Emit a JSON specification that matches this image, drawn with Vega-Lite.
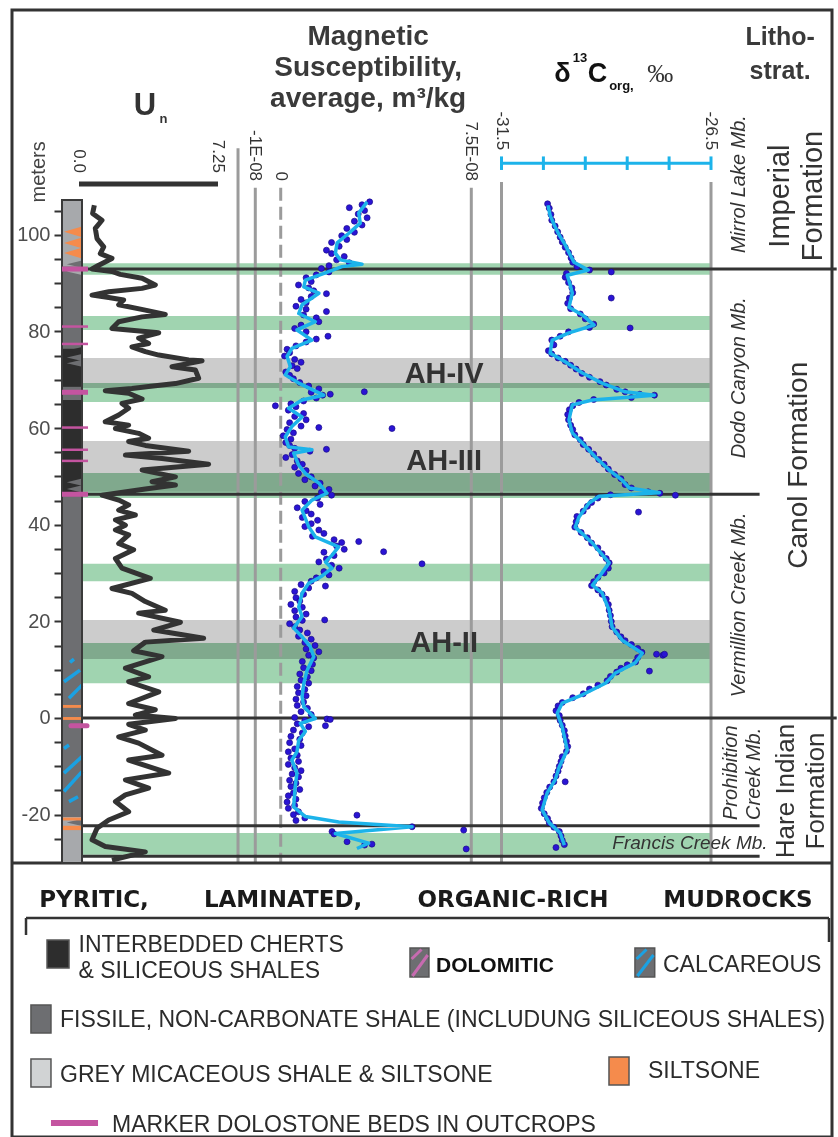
{
"$schema": "https://vega.github.io/schema/vega-lite/v6.json",
"width": 838, "height": 1137,
"autosize": {"type": "fit", "contains": "padding"},
"padding": {"left": 10, "top": 10, "right": 4, "bottom": 0},
"background": "white",
"config": {"view": {"stroke": "#333333", "strokeWidth": 3}, "text": {"font": "Liberation Sans"}},
"resolve": {"scale": {"x": "independent", "y": "independent", "color": "independent", "strokeWidth": "independent", "strokeDash": "independent"}},
"layer": [
{
 "data": {"values": [
  {"top": 94.1, "bottom": 91.7, "kind": "green"},
  {"top": 83.2, "bottom": 80.3, "kind": "green"},
  {"top": 69.3, "bottom": 65.4, "kind": "green"},
  {"top": 50.7, "bottom": 45.5, "kind": "green"},
  {"top": 31.9, "bottom": 28.3, "kind": "green"},
  {"top": 15.5, "bottom": 7.2, "kind": "green"},
  {"top": -23.8, "bottom": -28.3, "kind": "green"},
  {"top": 74.5, "bottom": 68.3, "kind": "grey"},
  {"top": 57.3, "bottom": 46.8, "kind": "grey"},
  {"top": 20.3, "bottom": 12.2, "kind": "grey"}
 ]},
 "mark": {"type": "rect", "blend": "multiply"},
 "encoding": {
  "x": {"datum": -41.5, "type": "quantitative", "scale": {"domain": [-31.5, -26.5], "range": [489.5, 699], "nice": false, "zero": false}, "axis": null},
  "x2": {"datum": -26.5},
  "y": {"field": "top", "type": "quantitative", "scale": {"domain": [-86.7, 146.5], "nice": false, "zero": false}, "axis": null},
  "y2": {"field": "bottom"},
  "color": {"field": "kind", "type": "nominal", "scale": {"domain": ["green", "grey"], "range": ["#a0d4b0", "#cccccc"]}, "legend": null}
 }
},
{
 "data": {"values": [
  {"ms": -1.68e-8, "top": 117.9, "style": "solid"},
  {"ms": -1e-8, "top": 109.7, "style": "solid"},
  {"ms": 0, "top": 109.7, "style": "dashed"},
  {"ms": 7.5e-8, "top": 109.7, "style": "solid"}
 ]},
 "mark": {"type": "rule", "color": "#9b9b9b", "strokeWidth": 3},
 "encoding": {
  "x": {"field": "ms", "type": "quantitative", "scale": {"domain": [-1e-8, 7.5e-8], "range": [243.3, 459.3], "nice": false, "zero": false}, "axis": null},
  "y": {"field": "top", "type": "quantitative", "scale": {"domain": [-86.7, 146.5], "nice": false, "zero": false}, "axis": null},
  "y2": {"datum": -30.0},
  "strokeDash": {"field": "style", "type": "nominal", "scale": {"domain": ["solid", "dashed"], "range": [[1, 0], [13, 6]]}, "legend": null}
 }
},
{
 "data": {"values": [{"d13c": -31.5}, {"d13c": -26.5}]},
 "mark": {"type": "rule", "color": "#9b9b9b", "strokeWidth": 3},
 "encoding": {
  "x": {"field": "d13c", "type": "quantitative", "scale": {"domain": [-31.5, -26.5], "range": [489.5, 699], "nice": false, "zero": false}, "axis": null},
  "y": {"datum": 110.9, "type": "quantitative", "scale": {"domain": [-86.7, 146.5], "nice": false, "zero": false}, "axis": null},
  "y2": {"datum": -30.0}
 }
},
{
 "data": {"values": [{"m": 92.9}, {"m": 0}]},
 "mark": {"type": "rule", "color": "#333333", "strokeWidth": 3},
 "encoding": {
  "x": {"datum": -41.5, "type": "quantitative", "scale": {"domain": [-31.5, -26.5], "range": [489.5, 699], "nice": false, "zero": false}, "axis": null},
  "x2": {"datum": -23.5},
  "y": {"field": "m", "type": "quantitative", "scale": {"domain": [-86.7, 146.5], "nice": false, "zero": false}, "axis": null}
 }
},
{
 "data": {"values": [{"m": 46.3}, {"m": -22.3}, {"m": -28.6}]},
 "mark": {"type": "rule", "color": "#333333", "strokeWidth": 3},
 "encoding": {
  "x": {"datum": -41.5, "type": "quantitative", "scale": {"domain": [-31.5, -26.5], "range": [489.5, 699], "nice": false, "zero": false}, "axis": null},
  "x2": {"datum": -25.34},
  "y": {"field": "m", "type": "quantitative", "scale": {"domain": [-86.7, 146.5], "nice": false, "zero": false}, "axis": null}
 }
},
{
 "data": {"values": [{"m": -30.0}]},
 "mark": {"type": "rule", "color": "#333333", "strokeWidth": 3},
 "encoding": {
  "y": {"field": "m", "type": "quantitative", "scale": {"domain": [-86.7, 146.5], "nice": false, "zero": false}, "axis": null}
 }
},
{
 "data": {"values": [
  {"top": 107.2, "bottom": 93.5, "lith": "micaceous"},
  {"top": 93.5, "bottom": 76.5, "lith": "fissile"},
  {"top": 76.5, "bottom": 68.5, "lith": "chert"},
  {"top": 68.5, "bottom": 65.8, "lith": "fissile"},
  {"top": 65.8, "bottom": 46.5, "lith": "chert"},
  {"top": 46.5, "bottom": -20.5, "lith": "fissile"},
  {"top": -20.5, "bottom": -30.0, "lith": "micaceous"}
 ]},
 "mark": {"type": "rect"},
 "encoding": {
  "x": {"datum": 0, "type": "quantitative", "scale": {"domain": [0, 1], "range": [50, 70], "nice": false, "zero": false}, "axis": null},
  "x2": {"datum": 1},
  "y": {"field": "top", "type": "quantitative", "scale": {"domain": [-86.7, 146.5], "nice": false, "zero": false},
        "axis": {"orient": "left", "offset": -49, "values": [-25, -20, -15, -10, -5, 0, 5, 10, 15, 20, 25, 30, 35, 40, 45, 50, 55, 60, 65, 70, 75, 80, 85, 90, 95, 100, 105],
                 "labelExpr": "datum.value % 20 === 0 ? replace(datum.label, '−', '-') : ''",
                 "domain": false, "grid": false, "tickSize": 7, "tickWidth": 2, "tickColor": "#333333",
                 "labelFont": "Liberation Sans", "labelFontSize": 20, "labelColor": "#4d4d4d", "labelPadding": 4, "labelOverlap": false, "labelFlush": false, "title": null}},
  "y2": {"field": "bottom"},
  "color": {"field": "lith", "type": "nominal", "scale": {"domain": ["chert", "fissile", "micaceous"], "range": ["#2d2d2d", "#6d6e71", "#a7a9ac"]}, "legend": null}
 }
},
{
 "data": {"values": [
  {"m": 93.9, "lith": "fissile"}, {"m": 92.4, "lith": "micaceous"},
  {"m": 76.0, "lith": "chert"}, {"m": 74.6, "lith": "fissile"}, {"m": 73.4, "lith": "fissile"},
  {"m": 48.8, "lith": "fissile"}, {"m": 47.4, "lith": "fissile"},
  {"m": -21.6, "lith": "fissile"}
 ]},
 "mark": {"type": "point", "shape": "M1,-0.45L-0.9,0L1,0.45Z", "filled": true, "opacity": 1, "size": 256},
 "encoding": {
  "x": {"datum": 0.6, "type": "quantitative", "scale": {"domain": [0, 1], "range": [50, 70], "nice": false, "zero": false}, "axis": null},
  "y": {"field": "m", "type": "quantitative", "scale": {"domain": [-86.7, 146.5], "nice": false, "zero": false}, "axis": null},
  "color": {"field": "lith", "type": "nominal", "scale": {"domain": ["chert", "fissile", "micaceous"], "range": ["#2d2d2d", "#6d6e71", "#a7a9ac"]}, "legend": null}
 }
},
{
 "data": {"values": [{"top": 2.7, "bottom": 2.1}, {"top": 0.2, "bottom": -0.4}, {"top": -20.6, "bottom": -21.2}, {"top": -22.3, "bottom": -23.2}]},
 "mark": {"type": "rect", "color": "#f58b4c"},
 "encoding": {
  "x": {"datum": 0, "type": "quantitative", "scale": {"domain": [0, 1], "range": [50, 70], "nice": false, "zero": false}, "axis": null},
  "x2": {"datum": 1},
  "y": {"field": "top", "type": "quantitative", "scale": {"domain": [-86.7, 146.5], "nice": false, "zero": false}, "axis": null},
  "y2": {"field": "bottom"}
 }
},
{
 "data": {"values": [
  {"u1": 0.4, "u2": 0.6, "m1": 11.5, "m2": 12.2},
  {"u1": 0.1, "u2": 0.9, "m1": 7.5, "m2": 9.9},
  {"u1": 0.35, "u2": 1.0, "m1": 4.1, "m2": 6.8},
  {"u1": 0.1, "u2": 0.35, "m1": -6.3, "m2": -5.6},
  {"u1": 0.1, "u2": 1.0, "m1": -11.4, "m2": -8.0},
  {"u1": 0.1, "u2": 1.0, "m1": -15.2, "m2": -11.1},
  {"u1": 0.35, "u2": 0.8, "m1": -17.3, "m2": -16.3}
 ]},
 "mark": {"type": "rule", "color": "#1ba1e2", "strokeWidth": 3.5},
 "encoding": {
  "x": {"field": "u1", "type": "quantitative", "scale": {"domain": [0, 1], "range": [50, 70], "nice": false, "zero": false}, "axis": null},
  "x2": {"field": "u2"},
  "y": {"field": "m1", "type": "quantitative", "scale": {"domain": [-86.7, 146.5], "nice": false, "zero": false}, "axis": null},
  "y2": {"field": "m2"}
 }
},
{
 "data": {"values": [{"m": 100.6}, {"m": 98.3}, {"m": 96.2}]},
 "mark": {"type": "point", "shape": "M1,-0.6L-1,0L1,0.6Z", "filled": true, "color": "#f58b4c", "opacity": 1, "size": 324},
 "encoding": {
  "x": {"datum": 0.55, "type": "quantitative", "scale": {"domain": [0, 1], "range": [50, 70], "nice": false, "zero": false}, "axis": null},
  "y": {"field": "m", "type": "quantitative", "scale": {"domain": [-86.7, 146.5], "nice": false, "zero": false}, "axis": null}
 }
},
{
 "data": {"values": [{"top": 107.2}]},
 "mark": {"type": "rect", "fillOpacity": 0, "stroke": "#3a3a3a", "strokeWidth": 2},
 "encoding": {
  "x": {"datum": 0, "type": "quantitative", "scale": {"domain": [0, 1], "range": [50, 70], "nice": false, "zero": false}, "axis": null},
  "x2": {"datum": 1},
  "y": {"field": "top", "type": "quantitative", "scale": {"domain": [-86.7, 146.5], "nice": false, "zero": false}, "axis": null},
  "y2": {"datum": -30.0}
 }
},
{
 "data": {"values": [
  {"m": 92.9, "bed": "thick"}, {"m": 81.0, "bed": "thin"}, {"m": 77.4, "bed": "thin"}, {"m": 67.4, "bed": "thick"},
  {"m": 60.1, "bed": "thin"}, {"m": 55.5, "bed": "thin"}, {"m": 53.2, "bed": "thin"}, {"m": 46.3, "bed": "thick"}
 ]},
 "mark": {"type": "rule", "color": "#c454a0"},
 "encoding": {
  "x": {"datum": 0, "type": "quantitative", "scale": {"domain": [0, 1], "range": [50, 70], "nice": false, "zero": false}, "axis": null},
  "x2": {"datum": 1.3},
  "y": {"field": "m", "type": "quantitative", "scale": {"domain": [-86.7, 146.5], "nice": false, "zero": false}, "axis": null},
  "strokeWidth": {"field": "bed", "type": "nominal", "scale": {"domain": ["thin", "thick"], "range": [2.5, 5]}, "legend": null}
 }
},
{
 "data": {"values": [{"m": -1.6}]},
 "mark": {"type": "rule", "color": "#c454a0", "strokeWidth": 5, "strokeCap": "round"},
 "encoding": {
  "x": {"datum": 0.45, "type": "quantitative", "scale": {"domain": [0, 1], "range": [50, 70], "nice": false, "zero": false}, "axis": null},
  "x2": {"datum": 1.25},
  "y": {"field": "m", "type": "quantitative", "scale": {"domain": [-86.7, 146.5], "nice": false, "zero": false}, "axis": null}
 }
},
{
 "data": {"values": [
  {"m":106.1,"un":0.80},{"m":104.4,"un":0.71},{"m":103.0,"un":1.20},{"m":101.3,"un":0.85},{"m":99.2,"un":0.94},{"m":97.5,"un":1.29},{"m":96.1,"un":1.11},{"m":95.1,"un":1.72},{"m":93.7,"un":1.03},{"m":92.9,"un":0.68},{"m":92.4,"un":1.72},{"m":91.8,"un":2.15},{"m":91.0,"un":3.29},{"m":89.6,"un":3.98},{"m":88.9,"un":3.29},{"m":88.2,"un":1.55},{"m":87.5,"un":0.68},{"m":87.0,"un":1.55},{"m":86.5,"un":2.33},{"m":85.5,"un":2.07},{"m":84.4,"un":3.46},{"m":83.5,"un":4.50},{"m":83.0,"un":3.29},{"m":82.0,"un":2.07},{"m":80.6,"un":1.72},{"m":80.3,"un":2.59},{"m":79.7,"un":4.16},{"m":78.6,"un":3.11},{"m":77.5,"un":3.63},{"m":76.8,"un":2.76},{"m":75.8,"un":3.46},{"m":75.1,"un":4.16},{"m":74.1,"un":5.72},{"m":73.9,"un":6.42},{"m":72.7,"un":4.85},{"m":72.0,"un":6.07},{"m":70.3,"un":6.24},{"m":69.2,"un":5.03},{"m":68.6,"un":3.63},{"m":68.2,"un":2.76},{"m":67.7,"un":1.37},{"m":67.2,"un":2.59},{"m":66.0,"un":3.29},{"m":65.1,"un":2.24},{"m":64.1,"un":2.59},{"m":62.7,"un":2.07},{"m":61.3,"un":1.37},{"m":60.6,"un":2.59},{"m":59.9,"un":1.90},{"m":58.9,"un":3.11},{"m":57.9,"un":3.63},{"m":57.2,"un":2.59},{"m":56.4,"un":3.46},{"m":55.2,"un":5.72},{"m":54.4,"un":2.42},{"m":53.7,"un":4.33},{"m":52.5,"un":6.76},{"m":51.3,"un":3.29},{"m":49.9,"un":5.03},{"m":48.9,"un":3.81},{"m":48.2,"un":5.03},{"m":47.4,"un":3.46},{"m":46.1,"un":1.20},{"m":45.1,"un":2.07},{"m":44.1,"un":2.59},{"m":43.0,"un":2.07},{"m":42.0,"un":2.94},{"m":41.0,"un":1.90},{"m":39.9,"un":2.42},{"m":38.9,"un":1.90},{"m":37.9,"un":2.59},{"m":36.1,"un":2.07},{"m":34.8,"un":2.85},{"m":33.0,"un":1.90},{"m":31.0,"un":2.24},{"m":28.9,"un":3.72},{"m":26.8,"un":1.72},{"m":25.8,"un":2.76},{"m":24.1,"un":3.46},{"m":22.3,"un":4.50},{"m":21.7,"un":3.11},{"m":19.8,"un":5.29},{"m":18.2,"un":3.90},{"m":16.5,"un":6.50},{"m":15.7,"un":3.46},{"m":13.9,"un":2.85},{"m":12.7,"un":4.33},{"m":10.3,"un":2.42},{"m":8.5,"un":3.63},{"m":7.5,"un":2.59},{"m":5.4,"un":4.16},{"m":3.0,"un":2.59},{"m":1.7,"un":3.98},{"m":0.6,"un":2.94},{"m":-0.1,"un":5.03},{"m":-1.3,"un":2.59},{"m":-2.5,"un":3.46},{"m":-3.9,"un":2.07},{"m":-5.2,"un":3.11},{"m":-7.7,"un":4.33},{"m":-8.7,"un":2.59},{"m":-11.4,"un":4.68},{"m":-12.8,"un":2.42},{"m":-14.5,"un":3.63},{"m":-15.9,"un":2.42},{"m":-17.3,"un":1.90},{"m":-19.4,"un":2.59},{"m":-21.1,"un":1.55},{"m":-22.8,"un":0.94},{"m":-25.2,"un":0.68},{"m":-26.6,"un":1.37},{"m":-27.7,"un":3.46},{"m":-29.4,"un":1.72}
 ]},
 "mark": {"type": "line", "color": "#333333", "strokeWidth": 5, "strokeJoin": "round"},
 "encoding": {
  "x": {"field": "un", "type": "quantitative", "scale": {"domain": [0, 7.25], "range": [67, 206], "nice": false, "zero": false}, "axis": null},
  "y": {"field": "m", "type": "quantitative", "scale": {"domain": [-86.7, 146.5], "nice": false, "zero": false}, "axis": null},
  "order": {"field": "m", "sort": "descending"}
 }
},
{
 "data": {"values": [{"m": 110.5}]},
 "mark": {"type": "rule", "color": "#333333", "strokeWidth": 5},
 "encoding": {
  "x": {"datum": 0, "type": "quantitative", "scale": {"domain": [0, 7.25], "range": [67, 206], "nice": false, "zero": false}, "axis": null},
  "x2": {"datum": 7.25},
  "y": {"field": "m", "type": "quantitative", "scale": {"domain": [-86.7, 146.5], "nice": false, "zero": false}, "axis": null}
 }
},
{
 "data": {"values": [{"label": "0.0", "un": 0}, {"label": "7.25", "un": 7.25}]},
 "mark": {"type": "text", "angle": 90, "align": "right", "baseline": "middle", "font": "Liberation Sans", "fontSize": 17, "color": "#333333"},
 "encoding": {
  "x": {"field": "un", "type": "quantitative", "scale": {"domain": [0, 7.25], "range": [67, 206], "nice": false, "zero": false}, "axis": null},
  "y": {"datum": 112.8, "type": "quantitative", "scale": {"domain": [-86.7, 146.5], "nice": false, "zero": false}, "axis": null},
  "text": {"field": "label"}
 }
},
{
 "data": {"values": [
  {"m":106.8,"ms":3.5e-8},{"m":106.2,"ms":3.2e-8},{"m":105.6,"ms":2.7e-8},{"m":105.0,"ms":3.3e-8},{"m":104.3,"ms":3.05e-8},{"m":103.5,"ms":3.4e-8},{"m":102.8,"ms":2.9e-8},{"m":102.0,"ms":3.2e-8},{"m":101.3,"ms":2.6e-8},{"m":100.5,"ms":2.9e-8},{"m":99.8,"ms":2.4e-8},{"m":99.0,"ms":2.6e-8},{"m":98.4,"ms":2.0e-8},{"m":97.6,"ms":2.3e-8},{"m":96.8,"ms":1.8e-8},{"m":96.1,"ms":2.0e-8},{"m":95.5,"ms":2.5e-8},{"m":94.8,"ms":2.2e-8},{"m":94.2,"ms":2.7e-8},{"m":93.6,"ms":1.9e-8},{"m":93.0,"ms":1.6e-8},{"m":92.3,"ms":1.9e-8},{"m":91.7,"ms":1.4e-8},{"m":91.1,"ms":1.0e-8},{"m":90.3,"ms":1.2e-8},{"m":89.6,"ms":0.7e-8},{"m":89.0,"ms":1.1e-8},{"m":88.4,"ms":1.3e-8},{"m":87.8,"ms":1.8e-8},{"m":87.2,"ms":1.2e-8},{"m":86.6,"ms":0.8e-8},{"m":85.9,"ms":1.0e-8},{"m":85.2,"ms":0.6e-8},{"m":84.6,"ms":1.0e-8},{"m":84.1,"ms":1.8e-8},{"m":83.4,"ms":0.9e-8},{"m":82.8,"ms":1.4e-8},{"m":82.0,"ms":1.5e-8},{"m":81.3,"ms":0.8e-8},{"m":80.6,"ms":0.55e-8},{"m":79.9,"ms":1.0e-8},{"m":79.0,"ms":1.86e-8},{"m":78.4,"ms":1.4e-8},{"m":77.8,"ms":1.0e-8},{"m":77.0,"ms":0.6e-8},{"m":76.3,"ms":0.25e-8},{"m":75.6,"ms":0.35e-8},{"m":74.9,"ms":0.15e-8},{"m":74.2,"ms":0.55e-8},{"m":73.6,"ms":0.8e-8},{"m":72.9,"ms":0.45e-8},{"m":72.3,"ms":0.65e-8},{"m":71.6,"ms":0.2e-8},{"m":70.9,"ms":0.35e-8},{"m":70.2,"ms":0.5e-8},{"m":69.4,"ms":0.75e-8},{"m":68.7,"ms":1.1e-8},{"m":68.1,"ms":1.5e-8},{"m":67.4,"ms":1.2e-8},{"m":66.8,"ms":1.65e-8},{"m":66.2,"ms":1.4e-8},{"m":65.6,"ms":0.9e-8},{"m":65.0,"ms":0.4e-8},{"m":64.4,"ms":0.6e-8},{"m":63.7,"ms":0.3e-8},{"m":63.0,"ms":0.9e-8},{"m":62.4,"ms":0.55e-8},{"m":61.7,"ms":1.0e-8},{"m":61.1,"ms":0.35e-8},{"m":60.4,"ms":0.8e-8},{"m":59.7,"ms":0.25e-8},{"m":59.0,"ms":0.5e-8},{"m":58.4,"ms":0.1e-8},{"m":57.7,"ms":0.4e-8},{"m":57.0,"ms":0.2e-8},{"m":56.4,"ms":0.35e-8},{"m":55.8,"ms":0.55e-8},{"m":55.2,"ms":1.15e-8},{"m":54.5,"ms":0.45e-8},{"m":53.9,"ms":0.2e-8},{"m":53.2,"ms":0.65e-8},{"m":52.5,"ms":0.85e-8},{"m":51.9,"ms":0.55e-8},{"m":51.2,"ms":1.0e-8},{"m":50.6,"ms":0.7e-8},{"m":49.9,"ms":1.2e-8},{"m":49.3,"ms":0.95e-8},{"m":48.6,"ms":1.55e-8},{"m":48.0,"ms":1.35e-8},{"m":47.3,"ms":1.9e-8},{"m":46.7,"ms":1.6e-8},{"m":46.1,"ms":2.0e-8},{"m":45.5,"ms":1.45e-8},{"m":44.8,"ms":0.95e-8},{"m":44.2,"ms":1.55e-8},{"m":43.5,"ms":0.65e-8},{"m":42.9,"ms":1.0e-8},{"m":42.2,"ms":1.2e-8},{"m":41.5,"ms":0.85e-8},{"m":40.9,"ms":1.45e-8},{"m":40.2,"ms":1.2e-8},{"m":39.6,"ms":0.95e-8},{"m":38.9,"ms":1.5e-8},{"m":38.2,"ms":1.7e-8},{"m":37.6,"ms":1.25e-8},{"m":36.9,"ms":2.1e-8},{"m":36.3,"ms":2.4e-8},{"m":35.6,"ms":2.2e-8},{"m":34.9,"ms":2.5e-8},{"m":34.3,"ms":1.7e-8},{"m":33.6,"ms":2.1e-8},{"m":32.9,"ms":1.8e-8},{"m":32.3,"ms":1.5e-8},{"m":31.6,"ms":2.0e-8},{"m":31.0,"ms":2.3e-8},{"m":30.3,"ms":1.7e-8},{"m":29.6,"ms":1.9e-8},{"m":29.0,"ms":1.4e-8},{"m":28.3,"ms":1.2e-8},{"m":27.6,"ms":0.8e-8},{"m":26.9,"ms":1.1e-8},{"m":26.2,"ms":0.55e-8},{"m":25.6,"ms":0.9e-8},{"m":24.9,"ms":0.6e-8},{"m":24.2,"ms":0.75e-8},{"m":23.5,"ms":0.4e-8},{"m":22.9,"ms":0.85e-8},{"m":22.2,"ms":0.55e-8},{"m":21.5,"ms":1.0e-8},{"m":20.9,"ms":0.6e-8},{"m":20.2,"ms":0.85e-8},{"m":19.5,"ms":0.35e-8},{"m":18.9,"ms":0.55e-8},{"m":18.2,"ms":0.75e-8},{"m":17.6,"ms":1.05e-8},{"m":16.9,"ms":0.7e-8},{"m":16.3,"ms":1.2e-8},{"m":15.6,"ms":0.95e-8},{"m":15.0,"ms":1.35e-8},{"m":14.3,"ms":1.0e-8},{"m":13.7,"ms":1.5e-8},{"m":13.0,"ms":1.1e-8},{"m":12.4,"ms":1.3e-8},{"m":11.7,"ms":0.85e-8},{"m":11.1,"ms":1.25e-8},{"m":10.4,"ms":0.9e-8},{"m":9.8,"ms":1.2e-8},{"m":9.1,"ms":0.75e-8},{"m":8.5,"ms":1.05e-8},{"m":7.8,"ms":0.8e-8},{"m":7.2,"ms":1.1e-8},{"m":6.5,"ms":0.65e-8},{"m":5.9,"ms":0.95e-8},{"m":5.2,"ms":0.7e-8},{"m":4.6,"ms":1.0e-8},{"m":3.9,"ms":0.6e-8},{"m":3.3,"ms":0.9e-8},{"m":2.6,"ms":0.65e-8},{"m":2.0,"ms":1.05e-8},{"m":1.3,"ms":0.8e-8},{"m":0.7,"ms":1.2e-8},{"m":0.1,"ms":0.55e-8},{"m":-0.5,"ms":0.95e-8},{"m":-1.2,"ms":0.65e-8},{"m":-1.8,"ms":1.1e-8},{"m":-2.5,"ms":0.5e-8},{"m":-3.1,"ms":0.85e-8},{"m":-3.8,"ms":0.4e-8},{"m":-4.4,"ms":0.75e-8},{"m":-5.1,"ms":0.35e-8},{"m":-5.7,"ms":0.8e-8},{"m":-6.4,"ms":0.55e-8},{"m":-7.0,"ms":0.3e-8},{"m":-7.7,"ms":0.65e-8},{"m":-8.3,"ms":0.4e-8},{"m":-9.0,"ms":0.7e-8},{"m":-9.6,"ms":0.3e-8},{"m":-10.3,"ms":0.55e-8},{"m":-10.9,"ms":0.8e-8},{"m":-11.6,"ms":0.45e-8},{"m":-12.2,"ms":0.7e-8},{"m":-12.9,"ms":0.35e-8},{"m":-13.5,"ms":0.6e-8},{"m":-14.2,"ms":0.4e-8},{"m":-14.8,"ms":0.75e-8},{"m":-15.5,"ms":0.5e-8},{"m":-16.1,"ms":0.3e-8},{"m":-16.8,"ms":0.6e-8},{"m":-17.4,"ms":0.25e-8},{"m":-18.1,"ms":0.55e-8},{"m":-18.7,"ms":0.3e-8},{"m":-19.4,"ms":0.7e-8},{"m":-20.0,"ms":0.5e-8},{"m":-20.7,"ms":0.95e-8},{"m":-21.2,"ms":0.6e-8},
  {"m":67.5,"ms":3.29e-8},{"m":59.9,"ms":4.38e-8},{"m":64.6,"ms":-0.21e-8},{"m":34.4,"ms":4.05e-8},{"m":36.5,"ms":3.07e-8},{"m":31.9,"ms":5.56e-8},{"m":55.6,"ms":1.8e-8},{"m":60.1,"ms":1.5e-8},{"m":67.0,"ms":1.95e-8},{"m":-23.2,"ms":7.2e-8},{"m":-27.1,"ms":7.3e-8},{"m":-20.1,"ms":3.0e-8},{"m":20.3,"ms":1.73e-8},{"m":27.3,"ms":1.76e-8},{"m":-26.1,"ms":3.59e-8},{"m":-25.6,"ms":2.61e-8},{"m":-23.5,"ms":2.02e-8},{"m":-0.2,"ms":1.82e-8},{"m":-0.3,"ms":1.95e-8},{"m":-1.6,"ms":1.76e-8},{"m":-22.5,"ms":5.17e-8},{"m":-24.0,"ms":2.1e-8},{"m":-26.3,"ms":3.3e-8}
 ]},
 "mark": {"type": "point", "filled": true, "color": "#2a14d4", "opacity": 1, "size": 36, "stroke": "#1a0c8a", "strokeWidth": 0.7},
 "encoding": {
  "x": {"field": "ms", "type": "quantitative", "scale": {"domain": [-1e-8, 7.5e-8], "range": [243.3, 459.3], "nice": false, "zero": false}, "axis": null},
  "y": {"field": "m", "type": "quantitative", "scale": {"domain": [-86.7, 146.5], "nice": false, "zero": false}, "axis": null}
 }
},
{
 "data": {"values": [
  {"m":106.8,"ms":3.40e-8},{"m":104.5,"ms":3.07e-8},{"m":102.4,"ms":3.13e-8},{"m":100.3,"ms":2.68e-8},{"m":98.3,"ms":2.22e-8},{"m":96.2,"ms":2.15e-8},{"m":94.8,"ms":2.35e-8},{"m":93.9,"ms":3.20e-8},{"m":93.4,"ms":2.41e-8},{"m":92.1,"ms":1.76e-8},{"m":90.6,"ms":0.97e-8},{"m":89.2,"ms":0.91e-8},{"m":87.9,"ms":1.50e-8},{"m":85.5,"ms":0.84e-8},{"m":83.7,"ms":0.71e-8},{"m":82.0,"ms":1.36e-8},{"m":80.3,"ms":0.64e-8},{"m":78.2,"ms":1.23e-8},{"m":76.5,"ms":0.44e-8},{"m":74.8,"ms":0.25e-8},{"m":72.7,"ms":0.38e-8},{"m":71.0,"ms":0.18e-8},{"m":69.3,"ms":0.71e-8},{"m":66.8,"ms":1.69e-8},{"m":65.8,"ms":0.84e-8},{"m":64.1,"ms":0.31e-8},{"m":62.3,"ms":0.84e-8},{"m":60.3,"ms":0.44e-8},{"m":58.2,"ms":0.18e-8},{"m":56.1,"ms":0.31e-8},{"m":55.5,"ms":1.23e-8},{"m":54.8,"ms":0.51e-8},{"m":52.3,"ms":0.71e-8},{"m":50.6,"ms":0.97e-8},{"m":48.6,"ms":1.50e-8},{"m":46.5,"ms":1.82e-8},{"m":45.1,"ms":1.23e-8},{"m":43.0,"ms":0.84e-8},{"m":39.6,"ms":1.10e-8},{"m":37.5,"ms":1.36e-8},{"m":35.4,"ms":2.28e-8},{"m":33.7,"ms":2.02e-8},{"m":32.3,"ms":1.76e-8},{"m":31.0,"ms":2.02e-8},{"m":29.4,"ms":1.63e-8},{"m":27.9,"ms":1.10e-8},{"m":25.8,"ms":0.84e-8},{"m":23.0,"ms":0.71e-8},{"m":21.0,"ms":0.84e-8},{"m":18.6,"ms":0.51e-8},{"m":16.8,"ms":0.84e-8},{"m":14.8,"ms":1.16e-8},{"m":12.7,"ms":1.30e-8},{"m":9.9,"ms":1.04e-8},{"m":7.2,"ms":0.91e-8},{"m":4.4,"ms":0.84e-8},{"m":2.3,"ms":0.91e-8},{"m":-0.1,"ms":1.36e-8},{"m":-1.1,"ms":0.77e-8},{"m":-2.8,"ms":0.97e-8},{"m":-4.6,"ms":0.71e-8},{"m":-7.0,"ms":0.64e-8},{"m":-8.7,"ms":0.44e-8},{"m":-11.4,"ms":0.64e-8},{"m":-14.2,"ms":0.57e-8},{"m":-18.4,"ms":0.51e-8},{"m":-20.4,"ms":0.97e-8},{"m":-21.5,"ms":2.28e-8},{"m":-22.5,"ms":5.17e-8},{"m":-23.9,"ms":2.15e-8},{"m":-25.9,"ms":3.46e-8},{"m":-27.0,"ms":3.00e-8}
 ]},
 "mark": {"type": "line", "color": "#1cb3ea", "strokeWidth": 3.5, "strokeJoin": "round"},
 "encoding": {
  "x": {"field": "ms", "type": "quantitative", "scale": {"domain": [-1e-8, 7.5e-8], "range": [243.3, 459.3], "nice": false, "zero": false}, "axis": null},
  "y": {"field": "m", "type": "quantitative", "scale": {"domain": [-86.7, 146.5], "nice": false, "zero": false}, "axis": null},
  "order": {"field": "m", "sort": "descending"}
 }
},
{
 "data": {"values": [
  {"m":106.4,"d13c":-30.40},{"m":105.5,"d13c":-30.36},{"m":104.2,"d13c":-30.32},{"m":103.0,"d13c":-30.30},{"m":101.8,"d13c":-30.22},{"m":100.6,"d13c":-30.16},{"m":99.5,"d13c":-30.10},{"m":98.5,"d13c":-30.05},{"m":97.4,"d13c":-29.98},{"m":96.3,"d13c":-29.90},{"m":95.2,"d13c":-29.84},{"m":94.3,"d13c":-29.80},{"m":93.4,"d13c":-29.70},{"m":92.7,"d13c":-29.40},{"m":92.0,"d13c":-29.95},{"m":91.2,"d13c":-29.98},{"m":90.1,"d13c":-29.90},{"m":89.0,"d13c":-29.82},{"m":88.0,"d13c":-29.80},{"m":86.9,"d13c":-29.88},{"m":85.8,"d13c":-29.92},{"m":84.7,"d13c":-29.85},{"m":83.6,"d13c":-29.62},{"m":82.6,"d13c":-29.50},{"m":81.5,"d13c":-29.30},{"m":80.8,"d13c":-29.40},{"m":79.9,"d13c":-29.90},{"m":79.0,"d13c":-30.10},{"m":78.2,"d13c":-30.30},{"m":77.2,"d13c":-30.25},{"m":76.0,"d13c":-30.38},{"m":75.3,"d13c":-30.30},{"m":74.5,"d13c":-30.15},{"m":73.8,"d13c":-29.98},{"m":73.0,"d13c":-29.85},{"m":72.2,"d13c":-29.72},{"m":71.3,"d13c":-29.58},{"m":70.5,"d13c":-29.40},{"m":69.6,"d13c":-29.15},{"m":68.9,"d13c":-29.00},{"m":68.0,"d13c":-28.75},{"m":67.5,"d13c":-28.55},{"m":67.0,"d13c":-28.20},{"m":66.8,"d13c":-27.85},{"m":66.3,"d13c":-28.40},{"m":65.9,"d13c":-29.30},{"m":65.3,"d13c":-29.65},{"m":64.6,"d13c":-29.80},{"m":63.8,"d13c":-29.88},{"m":62.8,"d13c":-29.92},{"m":61.7,"d13c":-29.90},{"m":60.6,"d13c":-29.85},{"m":59.7,"d13c":-29.80},{"m":58.6,"d13c":-29.75},{"m":57.6,"d13c":-29.62},{"m":56.6,"d13c":-29.55},{"m":55.6,"d13c":-29.42},{"m":54.6,"d13c":-29.30},{"m":53.5,"d13c":-29.18},{"m":52.5,"d13c":-29.05},{"m":51.5,"d13c":-28.95},{"m":50.4,"d13c":-28.80},{"m":49.5,"d13c":-28.65},{"m":48.3,"d13c":-28.55},{"m":47.6,"d13c":-28.40},{"m":46.8,"d13c":-28.00},{"m":46.5,"d13c":-27.72},{"m":46.2,"d13c":-28.90},{"m":45.5,"d13c":-29.20},{"m":44.6,"d13c":-29.35},{"m":43.8,"d13c":-29.45},{"m":42.8,"d13c":-29.55},{"m":41.7,"d13c":-29.70},{"m":40.6,"d13c":-29.72},{"m":39.5,"d13c":-29.75},{"m":38.4,"d13c":-29.60},{"m":37.3,"d13c":-29.45},{"m":36.2,"d13c":-29.35},{"m":35.2,"d13c":-29.20},{"m":34.0,"d13c":-29.10},{"m":33.0,"d13c":-29.00},{"m":32.1,"d13c":-28.93},{"m":31.0,"d13c":-28.95},{"m":30.0,"d13c":-29.05},{"m":29.1,"d13c":-29.20},{"m":28.2,"d13c":-29.30},{"m":27.4,"d13c":-29.35},{"m":26.5,"d13c":-29.20},{"m":25.6,"d13c":-29.10},{"m":24.6,"d13c":-29.00},{"m":23.5,"d13c":-28.95},{"m":22.3,"d13c":-28.93},{"m":21.2,"d13c":-28.90},{"m":20.0,"d13c":-28.88},{"m":18.9,"d13c":-28.86},{"m":17.8,"d13c":-28.75},{"m":16.8,"d13c":-28.65},{"m":16.0,"d13c":-28.55},{"m":15.2,"d13c":-28.40},{"m":14.4,"d13c":-28.25},{"m":13.6,"d13c":-28.15},{"m":13.2,"d13c":-27.80},{"m":13.0,"d13c":-27.65},{"m":12.5,"d13c":-28.25},{"m":11.6,"d13c":-28.30},{"m":11.0,"d13c":-28.50},{"m":10.3,"d13c":-28.65},{"m":9.5,"d13c":-28.75},{"m":8.6,"d13c":-28.90},{"m":7.7,"d13c":-28.98},{"m":6.8,"d13c":-29.20},{"m":6.0,"d13c":-29.40},{"m":5.0,"d13c":-29.55},{"m":4.2,"d13c":-29.80},{"m":3.2,"d13c":-30.05},{"m":2.5,"d13c":-30.15},{"m":1.5,"d13c":-30.20},{"m":0.5,"d13c":-30.12},{"m":-0.5,"d13c":-30.10},{"m":-1.5,"d13c":-30.05},{"m":-2.6,"d13c":-30.00},{"m":-3.7,"d13c":-29.98},{"m":-4.8,"d13c":-29.95},{"m":-5.9,"d13c":-29.92},{"m":-6.9,"d13c":-29.95},{"m":-8.0,"d13c":-30.05},{"m":-9.0,"d13c":-30.08},{"m":-10.0,"d13c":-30.12},{"m":-11.0,"d13c":-30.15},{"m":-12.0,"d13c":-30.20},{"m":-13.2,"d13c":-30.25},{"m":-14.3,"d13c":-30.35},{"m":-15.4,"d13c":-30.42},{"m":-16.5,"d13c":-30.48},{"m":-17.6,"d13c":-30.52},{"m":-18.7,"d13c":-30.55},{"m":-19.8,"d13c":-30.48},{"m":-20.8,"d13c":-30.40},{"m":-21.7,"d13c":-30.36},{"m":-22.6,"d13c":-30.25},{"m":-23.5,"d13c":-30.12},{"m":-24.4,"d13c":-30.08},{"m":-25.3,"d13c":-30.05},{"m":-26.2,"d13c":-30.00},{"m":-26.8,"d13c":-30.20},
  {"m":92.3,"d13c":-28.88},{"m":86.9,"d13c":-28.88},{"m":80.7,"d13c":-28.43},{"m":46.1,"d13c":-27.35},{"m":42.6,"d13c":-28.23},{"m":13.2,"d13c":-27.61},{"m":9.7,"d13c":-27.97},{"m":-13.2,"d13c":-29.98}
 ]},
 "mark": {"type": "point", "filled": true, "color": "#2a14d4", "opacity": 1, "size": 36, "stroke": "#1a0c8a", "strokeWidth": 0.7},
 "encoding": {
  "x": {"field": "d13c", "type": "quantitative", "scale": {"domain": [-31.5, -26.5], "range": [489.5, 699], "nice": false, "zero": false}, "axis": null},
  "y": {"field": "m", "type": "quantitative", "scale": {"domain": [-86.7, 146.5], "nice": false, "zero": false}, "axis": null}
 }
},
{
 "data": {"values": [
  {"m":106.1,"d13c":-30.39},{"m":104.0,"d13c":-30.34},{"m":102.0,"d13c":-30.24},{"m":99.9,"d13c":-30.12},{"m":97.9,"d13c":-29.98},{"m":95.8,"d13c":-29.86},{"m":94.3,"d13c":-29.77},{"m":92.7,"d13c":-29.43},{"m":91.6,"d13c":-29.93},{"m":89.6,"d13c":-29.86},{"m":87.9,"d13c":-29.81},{"m":85.0,"d13c":-29.89},{"m":83.4,"d13c":-29.57},{"m":81.3,"d13c":-29.29},{"m":79.7,"d13c":-29.89},{"m":78.2,"d13c":-30.29},{"m":75.5,"d13c":-30.34},{"m":73.7,"d13c":-29.98},{"m":71.4,"d13c":-29.57},{"m":69.3,"d13c":-29.10},{"m":67.5,"d13c":-28.55},{"m":66.8,"d13c":-27.85},{"m":65.8,"d13c":-29.33},{"m":64.8,"d13c":-29.81},{"m":61.7,"d13c":-29.89},{"m":59.0,"d13c":-29.81},{"m":56.9,"d13c":-29.57},{"m":54.0,"d13c":-29.26},{"m":51.3,"d13c":-28.93},{"m":49.2,"d13c":-28.62},{"m":47.6,"d13c":-28.45},{"m":46.6,"d13c":-27.73},{"m":45.9,"d13c":-29.17},{"m":44.5,"d13c":-29.41},{"m":41.6,"d13c":-29.65},{"m":39.5,"d13c":-29.74},{"m":36.2,"d13c":-29.33},{"m":32.1,"d13c":-28.93},{"m":29.2,"d13c":-29.17},{"m":27.5,"d13c":-29.33},{"m":25.9,"d13c":-29.10},{"m":22.3,"d13c":-28.93},{"m":18.8,"d13c":-28.86},{"m":16.1,"d13c":-28.62},{"m":13.4,"d13c":-28.14},{"m":11.4,"d13c":-28.31},{"m":9.3,"d13c":-28.78},{"m":7.2,"d13c":-29.02},{"m":4.8,"d13c":-29.57},{"m":3.1,"d13c":-30.05},{"m":1.0,"d13c":-30.17},{"m":-1.9,"d13c":-30.05},{"m":-6.6,"d13c":-29.93},{"m":-10.1,"d13c":-30.12},{"m":-12.8,"d13c":-30.22},{"m":-15.5,"d13c":-30.41},{"m":-19.0,"d13c":-30.53},{"m":-21.7,"d13c":-30.36},{"m":-23.8,"d13c":-30.10},{"m":-26.3,"d13c":-30.00}
 ]},
 "mark": {"type": "line", "color": "#1cb3ea", "strokeWidth": 3.5, "strokeJoin": "round"},
 "encoding": {
  "x": {"field": "d13c", "type": "quantitative", "scale": {"domain": [-31.5, -26.5], "range": [489.5, 699], "nice": false, "zero": false}, "axis": null},
  "y": {"field": "m", "type": "quantitative", "scale": {"domain": [-86.7, 146.5], "nice": false, "zero": false}, "axis": null},
  "order": {"field": "m", "sort": "descending"}
 }
},
{
 "data": {"values": [{"m": 114.8}]},
 "mark": {"type": "rule", "color": "#1cb3ea", "strokeWidth": 3},
 "encoding": {
  "x": {"datum": -31.5, "type": "quantitative", "scale": {"domain": [-31.5, -26.5], "range": [489.5, 699], "nice": false, "zero": false}, "axis": null},
  "x2": {"datum": -26.5},
  "y": {"field": "m", "type": "quantitative", "scale": {"domain": [-86.7, 146.5], "nice": false, "zero": false}, "axis": null}
 }
},
{
 "data": {"values": [{"d13c": -31.5}, {"d13c": -30.5}, {"d13c": -29.5}, {"d13c": -28.5}, {"d13c": -27.5}, {"d13c": -26.5}]},
 "mark": {"type": "rule", "color": "#1cb3ea", "strokeWidth": 3},
 "encoding": {
  "x": {"field": "d13c", "type": "quantitative", "scale": {"domain": [-31.5, -26.5], "range": [489.5, 699], "nice": false, "zero": false}, "axis": null},
  "y": {"datum": 116.2, "type": "quantitative", "scale": {"domain": [-86.7, 146.5], "nice": false, "zero": false}, "axis": null},
  "y2": {"datum": 113.4}
 }
},
{
 "data": {"values": [{"label": "-1E-08", "ms": -1e-8}, {"label": "0", "ms": 0}, {"label": "7.5E-08", "ms": 7.5e-8}]},
 "mark": {"type": "text", "angle": 90, "align": "right", "baseline": "middle", "font": "Liberation Sans", "fontSize": 17, "color": "#333333"},
 "encoding": {
  "x": {"field": "ms", "type": "quantitative", "scale": {"domain": [-1e-8, 7.5e-8], "range": [243.3, 459.3], "nice": false, "zero": false}, "axis": null},
  "y": {"datum": 111.1, "type": "quantitative", "scale": {"domain": [-86.7, 146.5], "nice": false, "zero": false}, "axis": null},
  "text": {"field": "label"}
 }
},
{
 "data": {"values": [{"label": "-31.5", "d13c": -31.5}, {"label": "-26.5", "d13c": -26.5}]},
 "mark": {"type": "text", "angle": 90, "align": "right", "baseline": "middle", "font": "Liberation Sans", "fontSize": 17, "color": "#333333"},
 "encoding": {
  "x": {"field": "d13c", "type": "quantitative", "scale": {"domain": [-31.5, -26.5], "range": [489.5, 699], "nice": false, "zero": false}, "axis": null},
  "y": {"datum": 117.5, "type": "quantitative", "scale": {"domain": [-86.7, 146.5], "nice": false, "zero": false}, "axis": null},
  "text": {"field": "label"}
 }
},
{
 "data": {"values": [{"title": "Magnetic Susceptibility"}]},
 "mark": {"type": "text", "text": ["Magnetic", "Susceptibility,", "average, m³/kg"], "lineHeight": 31, "align": "center", "baseline": "alphabetic", "font": "Liberation Sans", "fontWeight": "bold", "fontSize": 28, "color": "#3a3a3a"},
 "encoding": {
  "x": {"datum": 3.44e-8, "type": "quantitative", "scale": {"domain": [-1e-8, 7.5e-8], "range": [243.3, 459.3], "nice": false, "zero": false}, "axis": null},
  "y": {"datum": 139.3, "type": "quantitative", "scale": {"domain": [-86.7, 146.5], "nice": false, "zero": false}, "axis": null}
 }
},
{
 "data": {"values": [{"label": "AH-IV", "m": 69.3}, {"label": "AH-III", "m": 51.3}, {"label": "AH-II", "m": 13.7}]},
 "mark": {"type": "text", "align": "center", "baseline": "alphabetic", "font": "Liberation Sans", "fontWeight": "bold", "fontSize": 29, "color": "#333333"},
 "encoding": {
  "x": {"datum": 6.43e-8, "type": "quantitative", "scale": {"domain": [-1e-8, 7.5e-8], "range": [243.3, 459.3], "nice": false, "zero": false}, "axis": null},
  "y": {"field": "m", "type": "quantitative", "scale": {"domain": [-86.7, 146.5], "nice": false, "zero": false}, "axis": null},
  "text": {"field": "label"}
 }
},
{
 "data": {"values": [{"title": "U"}]},
 "mark": {"type": "text", "text": "U", "align": "center", "baseline": "alphabetic", "font": "Liberation Sans", "fontWeight": "bold", "fontSize": 31, "color": "#333333"},
 "encoding": {
  "x": {"datum": 3.44, "type": "quantitative", "scale": {"domain": [0, 7.25], "range": [67, 206], "nice": false, "zero": false}, "axis": null},
  "y": {"datum": 124.8, "type": "quantitative", "scale": {"domain": [-86.7, 146.5], "nice": false, "zero": false}, "axis": null}
 }
},
{
 "data": {"values": [{"title": "n"}]},
 "mark": {"type": "text", "text": "n", "align": "left", "baseline": "alphabetic", "font": "Liberation Sans", "fontWeight": "bold", "fontSize": 13, "color": "#333333"},
 "encoding": {
  "x": {"datum": 4.2, "type": "quantitative", "scale": {"domain": [0, 7.25], "range": [67, 206], "nice": false, "zero": false}, "axis": null},
  "y": {"datum": 123.1, "type": "quantitative", "scale": {"domain": [-86.7, 146.5], "nice": false, "zero": false}, "axis": null}
 }
},
{
 "data": {"values": [
  {"part": "δ", "d13c": -30.24, "m": 131.6},
  {"part": "C", "d13c": -29.44, "m": 131.6}
 ]},
 "mark": {"type": "text", "align": "left", "baseline": "alphabetic", "font": "Liberation Sans", "fontWeight": "bold", "fontSize": 27, "color": "#111111"},
 "encoding": {
  "x": {"field": "d13c", "type": "quantitative", "scale": {"domain": [-31.5, -26.5], "range": [489.5, 699], "nice": false, "zero": false}, "axis": null},
  "y": {"field": "m", "type": "quantitative", "scale": {"domain": [-86.7, 146.5], "nice": false, "zero": false}, "axis": null},
  "text": {"field": "part"}
 }
},
{
 "data": {"values": [
  {"part": "13", "d13c": -29.8, "m": 135.7},
  {"part": "org,", "d13c": -28.93, "m": 129.9}
 ]},
 "mark": {"type": "text", "align": "left", "baseline": "alphabetic", "font": "Liberation Sans", "fontWeight": "bold", "fontSize": 13, "color": "#111111"},
 "encoding": {
  "x": {"field": "d13c", "type": "quantitative", "scale": {"domain": [-31.5, -26.5], "range": [489.5, 699], "nice": false, "zero": false}, "axis": null},
  "y": {"field": "m", "type": "quantitative", "scale": {"domain": [-86.7, 146.5], "nice": false, "zero": false}, "axis": null},
  "text": {"field": "part"}
 }
},
{
 "data": {"values": [{"part": "‰"}]},
 "mark": {"type": "text", "text": "‰", "align": "left", "baseline": "alphabetic", "font": "Liberation Serif", "fontSize": 26, "color": "#333333"},
 "encoding": {
  "x": {"datum": -28.02, "type": "quantitative", "scale": {"domain": [-31.5, -26.5], "range": [489.5, 699], "nice": false, "zero": false}, "axis": null},
  "y": {"datum": 131.6, "type": "quantitative", "scale": {"domain": [-86.7, 146.5], "nice": false, "zero": false}, "axis": null}
 }
},
{
 "data": {"values": [{"title": "Litho-strat."}]},
 "mark": {"type": "text", "text": ["Litho-", "strat."], "lineHeight": 34, "align": "center", "baseline": "alphabetic", "font": "Liberation Sans", "fontWeight": "bold", "fontSize": 25, "color": "#3a3a3a"},
 "encoding": {
  "x": {"datum": -24.85, "type": "quantitative", "scale": {"domain": [-31.5, -26.5], "range": [489.5, 699], "nice": false, "zero": false}, "axis": null},
  "y": {"datum": 139.2, "type": "quantitative", "scale": {"domain": [-86.7, 146.5], "nice": false, "zero": false}, "axis": null}
 }
},
{
 "data": {"values": [{"member": "Mirrol Lake Mb.", "m": 110.5}, {"member": "Dodo Canyon Mb.", "m": 70.4}, {"member": "Vermillion Creek Mb.", "m": 23.4}]},
 "mark": {"type": "text", "angle": 270, "align": "center", "baseline": "alphabetic", "font": "Liberation Sans", "fontStyle": "italic", "fontSize": 20, "color": "#333333"},
 "encoding": {
  "x": {"datum": -25.69, "type": "quantitative", "scale": {"domain": [-31.5, -26.5], "range": [489.5, 699], "nice": false, "zero": false}, "axis": null},
  "y": {"field": "m", "type": "quantitative", "scale": {"domain": [-86.7, 146.5], "nice": false, "zero": false}, "axis": null},
  "text": {"field": "member"}
 }
},
{
 "data": {"values": [{"member": "Prohibition Creek Mb."}]},
 "mark": {"type": "text", "text": ["Prohibition", "Creek Mb."], "lineHeight": 23, "angle": 270, "align": "left", "baseline": "alphabetic", "font": "Liberation Sans", "fontStyle": "italic", "fontSize": 20, "color": "#333333"},
 "encoding": {
  "x": {"datum": -25.88, "type": "quantitative", "scale": {"domain": [-31.5, -26.5], "range": [489.5, 699], "nice": false, "zero": false}, "axis": null},
  "y": {"datum": -21.1, "type": "quantitative", "scale": {"domain": [-86.7, 146.5], "nice": false, "zero": false}, "axis": null}
 }
},
{
 "data": {"values": [{"member": "Francis Creek Mb."}]},
 "mark": {"type": "text", "text": "Francis Creek Mb.", "align": "right", "baseline": "alphabetic", "font": "Liberation Sans", "fontStyle": "italic", "fontSize": 19, "color": "#333333"},
 "encoding": {
  "x": {"datum": -25.15, "type": "quantitative", "scale": {"domain": [-31.5, -26.5], "range": [489.5, 699], "nice": false, "zero": false}, "axis": null},
  "y": {"datum": -27.1, "type": "quantitative", "scale": {"domain": [-86.7, 146.5], "nice": false, "zero": false}, "axis": null}
 }
},
{
 "data": {"values": [{"formation": "Imperial\nFormation", "m": 108.0}]},
 "mark": {"type": "text", "lineBreak": "\n", "lineHeight": 33, "angle": 270, "align": "center", "baseline": "alphabetic", "font": "Liberation Sans", "fontSize": 29, "color": "#333333"},
 "encoding": {
  "x": {"datum": -24.64, "type": "quantitative", "scale": {"domain": [-31.5, -26.5], "range": [489.5, 699], "nice": false, "zero": false}, "axis": null},
  "y": {"field": "m", "type": "quantitative", "scale": {"domain": [-86.7, 146.5], "nice": false, "zero": false}, "axis": null},
  "text": {"field": "formation"}
 }
},
{
 "data": {"values": [{"formation": "Hare Indian\nFormation", "m": -15.1}]},
 "mark": {"type": "text", "lineBreak": "\n", "lineHeight": 30, "angle": 270, "align": "center", "baseline": "alphabetic", "font": "Liberation Sans", "fontSize": 26, "color": "#333333"},
 "encoding": {
  "x": {"datum": -24.52, "type": "quantitative", "scale": {"domain": [-31.5, -26.5], "range": [489.5, 699], "nice": false, "zero": false}, "axis": null},
  "y": {"field": "m", "type": "quantitative", "scale": {"domain": [-86.7, 146.5], "nice": false, "zero": false}, "axis": null},
  "text": {"field": "formation"}
 }
},
{
 "data": {"values": [{"formation": "Canol Formation", "m": 52.3}]},
 "mark": {"type": "text", "angle": 270, "align": "center", "baseline": "alphabetic", "font": "Liberation Sans", "fontSize": 28, "color": "#333333"},
 "encoding": {
  "x": {"datum": -24.21, "type": "quantitative", "scale": {"domain": [-31.5, -26.5], "range": [489.5, 699], "nice": false, "zero": false}, "axis": null},
  "y": {"field": "m", "type": "quantitative", "scale": {"domain": [-86.7, 146.5], "nice": false, "zero": false}, "axis": null},
  "text": {"field": "formation"}
 }
},
{
 "data": {"values": [{"title": "meters"}]},
 "mark": {"type": "text", "text": "meters", "angle": 270, "align": "center", "baseline": "alphabetic", "font": "Liberation Sans", "fontSize": 20, "color": "#444444"},
 "encoding": {
  "x": {"datum": -0.85, "type": "quantitative", "scale": {"domain": [0, 1], "range": [50, 70], "nice": false, "zero": false}, "axis": null},
  "y": {"datum": 113.0, "type": "quantitative", "scale": {"domain": [-86.7, 146.5], "nice": false, "zero": false}, "axis": null}
 }
},
{
 "data": {"values": [
  {"item": "chert", "x1": 4.25, "x2": 6.92, "y1": 0.84, "y2": 1.40},
  {"item": "dolomitic", "x1": 48.3, "x2": 50.6, "y1": 1.0, "y2": 1.58},
  {"item": "calcareous", "x1": 75.6, "x2": 78.0, "y1": 1.0, "y2": 1.58},
  {"item": "fissile", "x1": 2.3, "x2": 4.73, "y1": 2.14, "y2": 2.70},
  {"item": "micaceous", "x1": 2.3, "x2": 4.73, "y1": 3.22, "y2": 3.78},
  {"item": "siltstone", "x1": 72.45, "x2": 74.88, "y1": 3.18, "y2": 3.74}
 ]},
 "mark": {"type": "rect", "stroke": "#555555", "strokeWidth": 1.5},
 "encoding": {
  "x": {"field": "x1", "type": "quantitative", "scale": {"domain": [0, 100], "range": [0, 824], "nice": false, "zero": false}, "axis": null},
  "x2": {"field": "x2"},
  "y": {"field": "y1", "type": "quantitative", "scale": {"domain": [0, 5], "range": [888, 1138], "nice": false, "zero": false}, "axis": null},
  "y2": {"field": "y2"},
  "color": {"field": "item", "type": "nominal", "scale": {"domain": ["chert", "dolomitic", "calcareous", "fissile", "micaceous", "siltstone"], "range": ["#2d2d2d", "#6d6e71", "#6d6e71", "#6d6e71", "#d1d3d4", "#f58b4c"]}, "legend": null}
 }
},
{
 "data": {"values": [
  {"kind": "dolomitic", "x1": 48.5, "x2": 49.7, "y1": 1.22, "y2": 1.03},
  {"kind": "dolomitic", "x1": 48.6, "x2": 50.45, "y1": 1.56, "y2": 1.14},
  {"kind": "calcareous", "x1": 75.8, "x2": 77.0, "y1": 1.22, "y2": 1.03},
  {"kind": "calcareous", "x1": 75.9, "x2": 77.85, "y1": 1.56, "y2": 1.14}
 ]},
 "mark": {"type": "rule", "strokeWidth": 3},
 "encoding": {
  "x": {"field": "x1", "type": "quantitative", "scale": {"domain": [0, 100], "range": [0, 824], "nice": false, "zero": false}, "axis": null},
  "x2": {"field": "x2"},
  "y": {"field": "y1", "type": "quantitative", "scale": {"domain": [0, 5], "range": [888, 1138], "nice": false, "zero": false}, "axis": null},
  "y2": {"field": "y2"},
  "color": {"field": "kind", "type": "nominal", "scale": {"domain": ["dolomitic", "calcareous"], "range": ["#c76bb0", "#1ba1e2"]}, "legend": null}
 }
},
{
 "data": {"values": [
  {"x1": 1.7, "x2": 99.15, "y1": 0.4, "y2": 0.4},
  {"x1": 1.7, "x2": 1.7, "y1": 0.4, "y2": 0.74},
  {"x1": 99.15, "x2": 99.15, "y1": 0.4, "y2": 0.88}
 ]},
 "mark": {"type": "rule", "color": "#333333", "strokeWidth": 2.5},
 "encoding": {
  "x": {"field": "x1", "type": "quantitative", "scale": {"domain": [0, 100], "range": [0, 824], "nice": false, "zero": false}, "axis": null},
  "x2": {"field": "x2"},
  "y": {"field": "y1", "type": "quantitative", "scale": {"domain": [0, 5], "range": [888, 1138], "nice": false, "zero": false}, "axis": null},
  "y2": {"field": "y2"}
 }
},
{
 "data": {"values": [{"x1": 4.73, "x2": 10.44, "y1": 4.5}]},
 "mark": {"type": "rule", "color": "#c454a0", "strokeWidth": 6},
 "encoding": {
  "x": {"field": "x1", "type": "quantitative", "scale": {"domain": [0, 100], "range": [0, 824], "nice": false, "zero": false}, "axis": null},
  "x2": {"field": "x2"},
  "y": {"field": "y1", "type": "quantitative", "scale": {"domain": [0, 5], "range": [888, 1138], "nice": false, "zero": false}, "axis": null}
 }
},
{
 "data": {"values": [
  {"text": "INTERBEDDED CHERTS", "lx": 8.07, "ly": 1.073},
  {"text": "& SILICEOUS SHALES", "lx": 8.07, "ly": 1.607},
  {"text": "CALCAREOUS", "lx": 79.0, "ly": 1.473},
  {"text": "FISSILE, NON-CARBONATE SHALE (INCLUDUNG SILICEOUS SHALES)", "lx": 5.83, "ly": 2.573},
  {"text": "GREY MICACEOUS SHALE & SILTSONE", "lx": 5.83, "ly": 3.673},
  {"text": "SILTSONE", "lx": 77.18, "ly": 3.607},
  {"text": "MARKER DOLOSTONE BEDS IN OUTCROPS", "lx": 12.14, "ly": 4.673}
 ]},
 "mark": {"type": "text", "align": "left", "baseline": "alphabetic", "font": "Liberation Sans", "fontSize": 23, "color": "#2b2b2b"},
 "encoding": {
  "x": {"field": "lx", "type": "quantitative", "scale": {"domain": [0, 100], "range": [0, 824], "nice": false, "zero": false}, "axis": null},
  "y": {"field": "ly", "type": "quantitative", "scale": {"domain": [0, 5], "range": [888, 1138], "nice": false, "zero": false}, "axis": null},
  "text": {"field": "text"}
 }
},
{
 "data": {"values": [{"text": "DOLOMITIC", "lx": 51.46, "ly": 1.473}]},
 "mark": {"type": "text", "align": "left", "baseline": "alphabetic", "font": "Liberation Sans", "fontWeight": "bold", "fontSize": 21, "color": "#111111"},
 "encoding": {
  "x": {"field": "lx", "type": "quantitative", "scale": {"domain": [0, 100], "range": [0, 824], "nice": false, "zero": false}, "axis": null},
  "y": {"field": "ly", "type": "quantitative", "scale": {"domain": [0, 5], "range": [888, 1138], "nice": false, "zero": false}, "axis": null},
  "text": {"field": "text"}
 }
},
{
 "data": {"values": [
  {"text": "PYRITIC,", "lx": 9.95, "ly": 0.173},
  {"text": "LAMINATED,", "lx": 32.9, "ly": 0.173},
  {"text": "ORGANIC-RICH", "lx": 60.8, "ly": 0.173},
  {"text": "MUDROCKS", "lx": 88.1, "ly": 0.173}
 ]},
 "mark": {"type": "text", "align": "center", "baseline": "alphabetic", "font": "DejaVu Sans", "fontWeight": "bold", "fontSize": 23, "color": "#1a1a1a"},
 "encoding": {
  "x": {"field": "lx", "type": "quantitative", "scale": {"domain": [0, 100], "range": [0, 824], "nice": false, "zero": false}, "axis": null},
  "y": {"field": "ly", "type": "quantitative", "scale": {"domain": [0, 5], "range": [888, 1138], "nice": false, "zero": false}, "axis": null},
  "text": {"field": "text"}
 }
}
]
}
